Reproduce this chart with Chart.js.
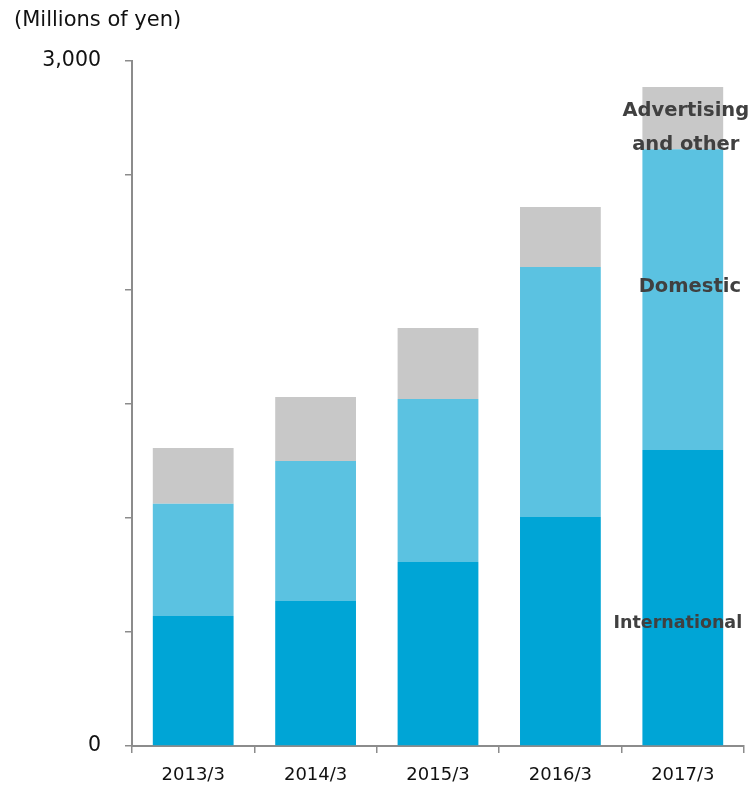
<!DOCTYPE html>
<html>
<head>
<meta charset="utf-8">
<script src="https://cdn.jsdelivr.net/npm/chart.js@4/dist/chart.umd.min.js"></script>
<style>
  html, body { margin: 0; padding: 0; background: #fff; }
  #wrap { width: 754px; height: 786px; position: relative; }
</style>
</head>
<body>
<div id="wrap"><canvas id="chart" width="754" height="786"></canvas></div>
<script>
// Data (millions of yen)
const years = ['2013/3', '2014/3', '2015/3', '2016/3', '2017/3'];
const international = [569, 635, 806, 1003, 1296];
const domestic = [492, 613, 714, 1095, 1318];
const advertising = [244, 280, 311, 263, 272];
const yLabels = { 0: '0', 3000: '3,000' };

const AXIS_COLOR = '#8c8c8c';
const FONT = '"DejaVu Sans", Verdana, sans-serif';

// Draws the unit caption and the series names next to the last bar
const textPlugin = {
  id: 'segmentText',
  afterDraw(chart) {
    const { ctx } = chart;
    const last = years.length - 1;
    const bar = chart.getDatasetMeta(0).data[last];
    const x = bar.x;

    ctx.save();
    ctx.fillStyle = '#111';
    ctx.font = `21px ${FONT}`;
    ctx.textAlign = 'left';
    ctx.textBaseline = 'middle';
    ctx.fillText('(Millions of yen)', 14, 21);

    ctx.fillStyle = '#404040';
    ctx.textAlign = 'center';
    ctx.font = `bold 19.5px ${FONT}`;
    ctx.fillText('Advertising', x + 3, 111);
    ctx.fillText('and other', x + 3, 145);
    ctx.fillText('Domestic', x + 7, 287);
    ctx.font = `bold 17.5px ${FONT}`;
    ctx.fillText('International', x - 5, 623);
    ctx.restore();
  },
};

const makeSet = (label, data, color) => ({
  label,
  data,
  backgroundColor: color,
  borderWidth: 0,
  barPercentage: 0.66,
  categoryPercentage: 1,
});

new Chart(document.getElementById('chart'), {
  type: 'bar',
  data: {
    labels: years,
    datasets: [
      makeSet('International', international, '#00a5d6'),
      makeSet('Domestic', domestic, '#5bc2e1'),
      makeSet('Advertising and other', advertising, '#c8c8c8'),
    ],
  },
  options: {
    responsive: false,
    animation: false,
    layout: { padding: { top: 61, right: 10, left: 0, bottom: 0 } },
    scales: {
      x: {
        stacked: true,
        afterFit(scale) { scale.height = 40; },
        border: { color: AXIS_COLOR, width: 2 },
        grid: {
          drawOnChartArea: false,
          color: AXIS_COLOR,
          tickLength: 7,
          lineWidth: 1.5,
        },
        ticks: {
          color: '#111',
          font: { family: FONT, size: 18 },
          padding: 12,
        },
      },
      y: {
        stacked: true,
        min: 0,
        max: 3000,
        afterFit(scale) { scale.width = 132; },
        border: { color: AXIS_COLOR, width: 2 },
        grid: {
          drawOnChartArea: false,
          color: AXIS_COLOR,
          tickLength: 7,
          lineWidth: 1.5,
        },
        ticks: {
          stepSize: 500,
          color: '#111',
          font: { family: FONT, size: 20.5 },
          padding: 24,
          callback(value) {
            return yLabels[value] !== undefined ? yLabels[value] : '';
          },
        },
      },
    },
    plugins: {
      legend: { display: false },
      tooltip: { enabled: false },
    },
  },
  plugins: [textPlugin],
});
</script>
</body>
</html>
